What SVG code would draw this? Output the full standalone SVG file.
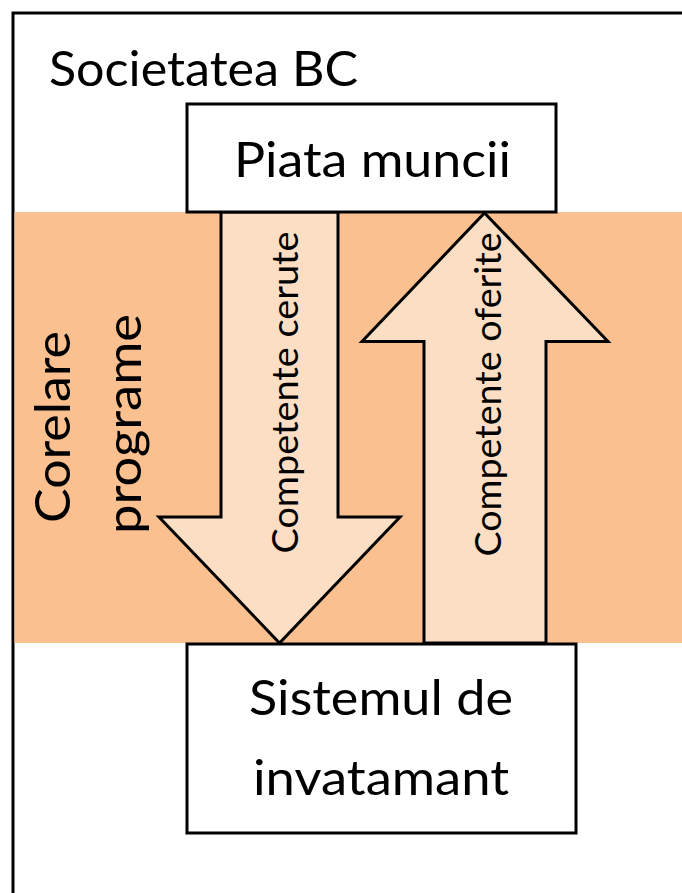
<svg xmlns="http://www.w3.org/2000/svg" width="682" height="893" viewBox="0 0 682 893">
<style>
.box{fill:#FFFFFF;stroke:#000000;stroke-width:3}
.arrow{fill:#FCDEC5;stroke:#000000;stroke-width:3;stroke-linejoin:miter}
.big{font-family:Lato,"Liberation Sans",sans-serif;font-size:49px;fill:#000000}
.small{font-family:Lato,"Liberation Sans",sans-serif;font-size:36.5px;fill:#000000}
</style>
<rect x="0" y="0" width="682" height="893" fill="#FFFFFF"/>
<g id="societatea">
<rect x="13" y="13" width="700" height="900" fill="none" stroke="#000000" stroke-width="3"/>
<text class="big" x="49" y="86" textLength="309" lengthAdjust="spacingAndGlyphs">Societatea BC</text>
</g>
<g id="corelare">
<rect x="14.5" y="212" width="667.5" height="431" fill="#FAC090"/>
<text class="big" transform="translate(69.5,427) rotate(-90)" text-anchor="middle" textLength="192" lengthAdjust="spacingAndGlyphs">Corelare</text>
<text class="big" transform="translate(140.5,424) rotate(-90)" text-anchor="middle" textLength="220" lengthAdjust="spacingAndGlyphs">programe</text>
</g>
<g id="connectors">
<polygon class="arrow" points="221,212 338,212 338,517 400,517 279.5,643 159,517 221,517"/>
<polygon class="arrow" points="484.5,213 608,341.5 546,341.5 546,643 424,643 424,341.5 362,341.5"/>
<text class="small" transform="translate(297.5,392.5) rotate(-90)" text-anchor="middle" textLength="322" lengthAdjust="spacingAndGlyphs">Competente cerute</text>
<text class="small" transform="translate(501,394.5) rotate(-90)" text-anchor="middle" textLength="324" lengthAdjust="spacingAndGlyphs">Competente oferite</text>
</g>
<g id="piata-muncii">
<rect class="box" x="187" y="104" width="369" height="108"/>
<text class="big" x="372.5" y="177" text-anchor="middle" textLength="277" lengthAdjust="spacingAndGlyphs">Piata muncii</text>
</g>
<g id="sistemul-de-invatamant">
<rect class="box" x="187" y="644" width="389" height="189"/>
<text class="big" x="381" y="715" text-anchor="middle" textLength="264" lengthAdjust="spacingAndGlyphs">Sistemul de</text>
<text class="big" x="381" y="795" text-anchor="middle" textLength="256" lengthAdjust="spacingAndGlyphs">invatamant</text>
</g>
</svg>
